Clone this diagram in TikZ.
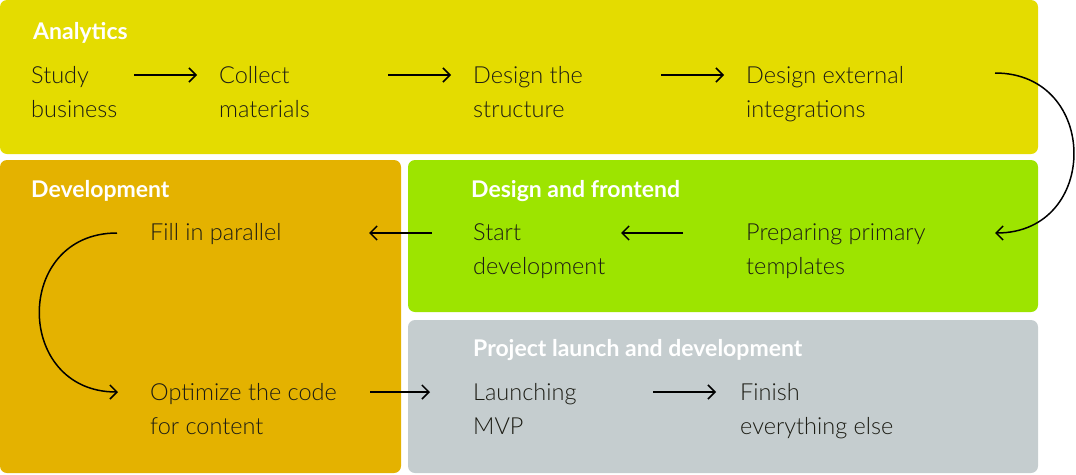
\documentclass[tikz,border=0pt]{standalone}
\usepackage{fontspec}
\setmainfont{Lato}[UprightFont=* Light, BoldFont=* Bold]
\usetikzlibrary{arrows.meta}

\definecolor{analyticsyellow}{HTML}{E4DC00}
\definecolor{developmentgold}{HTML}{E4B200}
\definecolor{frontendgreen}{HTML}{9DE400}
\definecolor{launchgray}{HTML}{C5CDCF}
\definecolor{taskink}{HTML}{1C1C14}

\tikzset{
  stage/.style={
    fill=#1,
    rounded corners=7pt
  },
  title/.style={
    anchor=base west,
    inner sep=0pt,
    text=white,
    font=\fontsize{23}{23}\selectfont\bfseries
  },
  task/.style={
    anchor=base west,
    inner sep=0pt,
    align=left,
    text=taskink,
    font=\fontsize{23.5}{34}\selectfont
  },
  flow/.style={
    line width=1.5pt,
    -{Straight Barb[length=7pt,width=14pt,line width=1.5pt]}
  }
}

\begin{document}
\begin{tikzpicture}[x=1pt,y=-1pt]
    \useasboundingbox (0,0) rectangle (1076,474);
    \fill[stage=analyticsyellow] (0,0) rectangle (1038,154);
    \fill[stage=developmentgold] (0,160) rectangle (401,473);
    \fill[stage=frontendgreen] (408,160) rectangle (1038,312);
    \fill[stage=launchgray] (408,320) rectangle (1038,473);

    \node[title] at (33,39) (analytics) {Analytics};
    \node[title] at (31,197) (development) {Development};
    \node[title] at (471,197) (frontend) {Design and frontend};
    \node[title] at (473,356) (launch) {Project launch and development};

    \node[task] at (31,117) (study) {Study\\business};
    \node[task] at (219,117) (collect) {Collect\\materials};
    \node[task] at (473,117) (structure) {Design the\\structure};
    \node[task] at (746,117) (extern) {Design external\\integrations};
    \node[task] at (150,240) (fill) {Fill in parallel};
    \node[task] at (473,274) (start) {Start\\development};
    \node[task] at (746,274) (prepare) {Preparing primary\\templates};
    \node[task] at (150,434) (optimize) {Optimize the code\\for content};
    \node[task] at (473,434) (mvp) {Launching\\MVP};
    \node[task] at (740,434) (finish) {Finish\\everything else};

    \draw[flow] ([shift={(103,-42)}]study.base west) -- ([shift={(-22,-42)}]collect.base west);
    \draw[flow] ([shift={(169,-42)}]collect.base west) -- ([shift={(-22,-42)}]structure.base west);
    \draw[flow] ([shift={(188,-42)}]structure.base west) -- ([shift={(-22,-42)}]extern.base west);
    \draw[flow] ([shift={(249,-44)}]extern.base west) .. controls +(105,0) and +(105,0) .. ([shift={(249,-41)}]prepare.base west);
    \draw[flow] ([shift={(-63,-41)}]prepare.base west) -- ([shift={(148,-41)}]start.base west);
    \draw[flow] ([shift={(-41,-41)}]start.base west) -- ([shift={(219,-7)}]fill.base west);
    \draw[flow] ([shift={(-33,-7)}]fill.base west) .. controls +(-104,0) and +(-104,0) .. ([shift={(-32,-42)}]optimize.base west);
    \draw[flow] ([shift={(220,-42)}]optimize.base west) -- ([shift={(-43,-42)}]mvp.base west);
    \draw[flow] ([shift={(180,-42)}]mvp.base west) -- ([shift={(-24,-42)}]finish.base west);
\end{tikzpicture}
\end{document}
